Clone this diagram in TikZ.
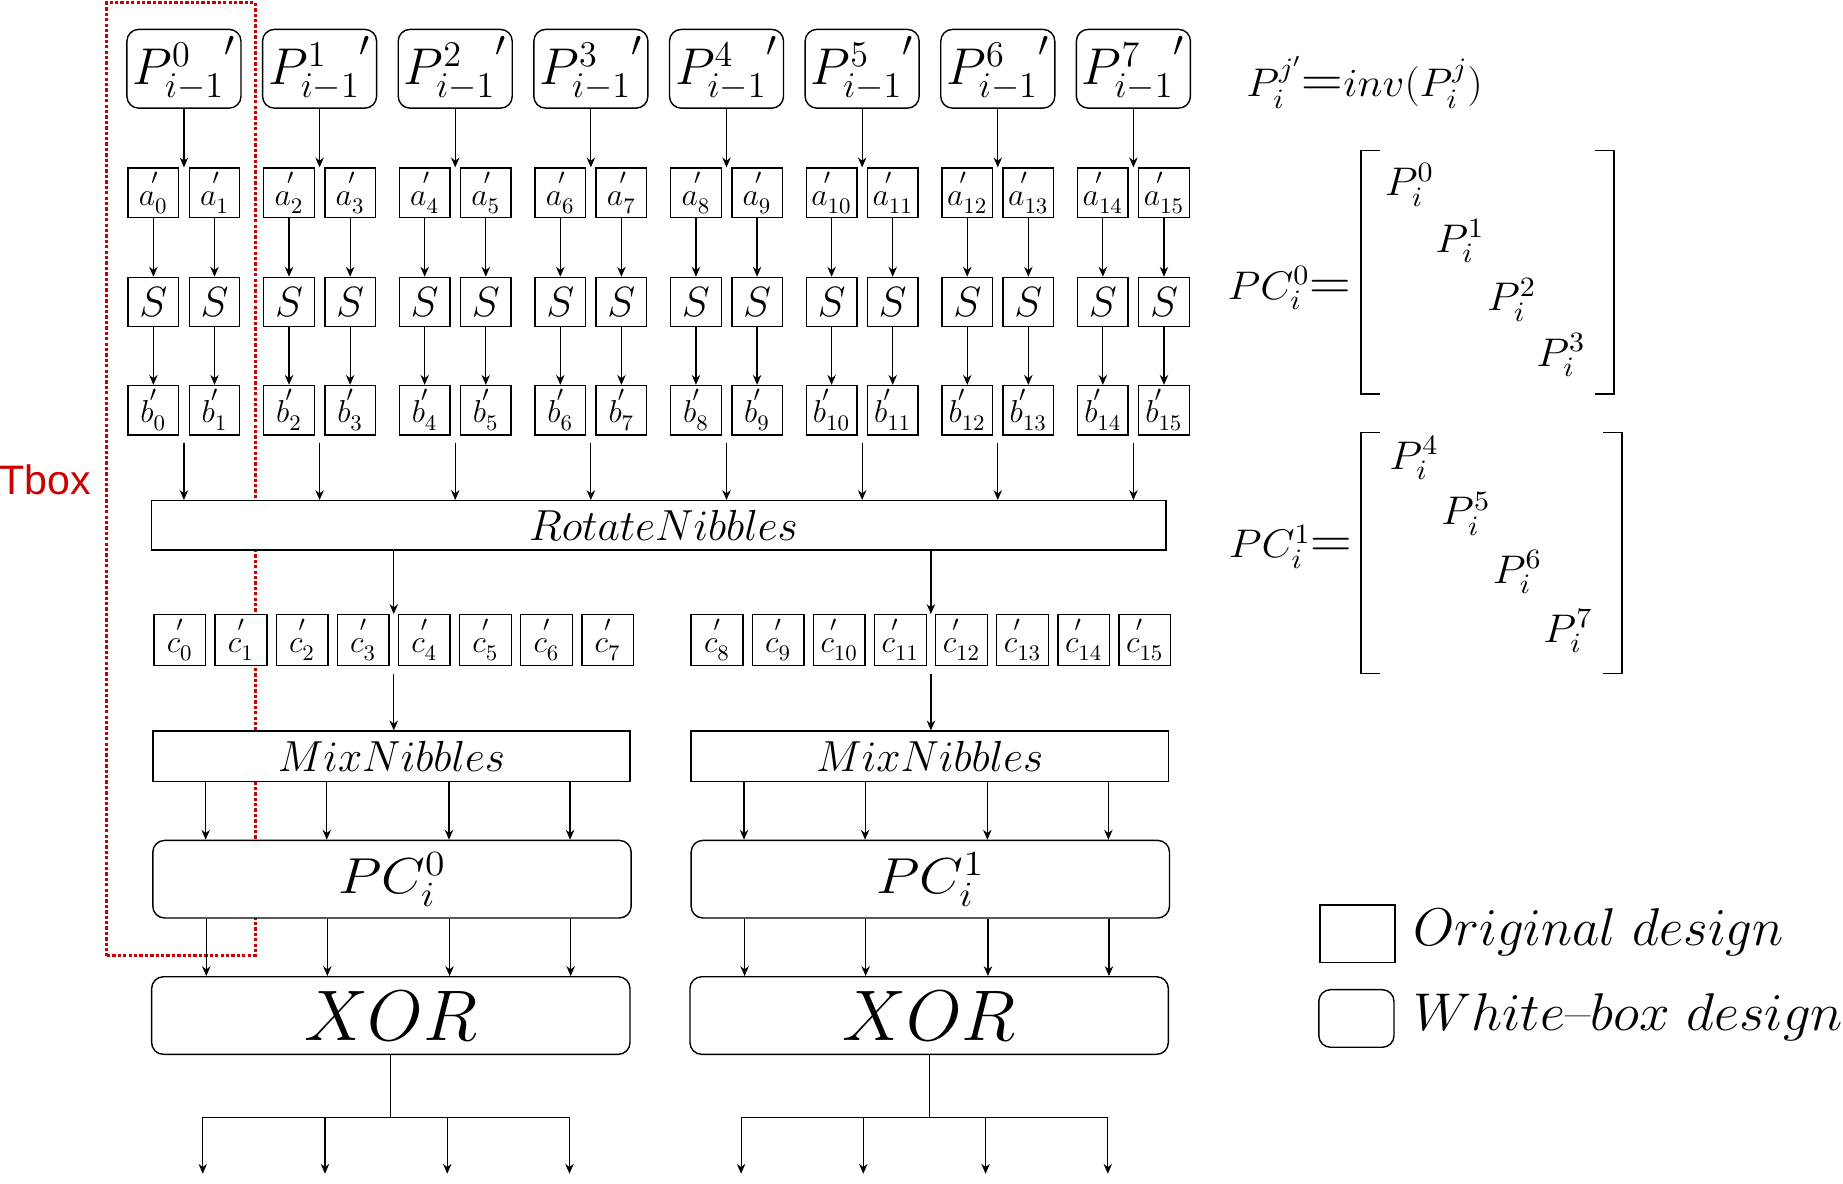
\RequirePackage{fix-cm}
\documentclass[tikz,border=0pt]{standalone}
\usepackage{amsmath}
\usepackage{graphicx}
\usepackage{fontspec}
\newfontfamily\tboxfont{Liberation Sans}
\usetikzlibrary{arrows.meta,calc}
\definecolor{tred}{RGB}{204,0,0}
\newcommand\myfs[1]{\fontsize{#1}{#1}\selectfont}
\newcommand\pr[2]{#1^{\kern-1.6pt{}^{\scriptstyle\prime}}_{#2}}
\newcommand\hs[1]{\scalebox{1.07}[1]{#1}}
\newcommand\bigeq{{\scalebox{1.35}{$=$}}}
\begin{document}
\begin{tikzpicture}[x=0.5pt,y=-0.5pt,
 orig/.style={draw, fill=white, line width=0.6pt, inner sep=0pt, rectangle},
 wbox/.style={orig, rounded corners=5pt},
 arr/.style={-{Stealth[length=4.2pt,width=3.6pt]}, line width=0.5pt},
 ln/.style={line width=0.5pt},
 pbox/.style={wbox, minimum width=48.5pt, minimum height=33.5pt, font=\myfs{22}},
 nib/.style={orig, minimum width=21.5pt, minimum height=21pt, font=\myfs{13.5}},
 sbox/.style={orig, minimum width=21.5pt, minimum height=21pt, font=\myfs{18}},
 cbox/.style={orig, minimum width=22pt, minimum height=21.5pt, font=\myfs{13.5}},
 wide/.style={orig, minimum width=203pt, minimum height=21.5pt, font=\myfs{18.5}},
 pcb/.style={wbox, minimum width=203.5pt, minimum height=33pt, font=\myfs{21.5}},
 xorb/.style={wbox, minimum width=203.5pt, minimum height=33pt, font=\myfs{30.5}},
 eq/.style={inner sep=0pt, font=\myfs{17}},
 brk/.style={line width=0.8pt},
 legt/.style={inner sep=0pt, anchor=west, font=\myfs{22.6}},
 tbx/.style={draw=tred, line width=1.3pt, dash pattern=on 1.4pt off 0.9pt, inner sep=0pt}
]
\useasboundingbox (0,0) rectangle (1568,1007);

% Tbox
\node[tbx, minimum width=63pt, minimum height=405.5pt] (tbox) at (154,407.5) {};
\node[text=tred, font=\tboxfont\myfs{17.5}, inner sep=0pt] (tlab) at (38.5,408) {Tbox};

% top columns
\foreach \k in {0,...,7}{
 \pgfmathsetmacro\cx{156.5+115.4*\k}
 \pgfmathtruncatemacro\ia{2*\k}
 \pgfmathtruncatemacro\ib{2*\k+1}
 \node[pbox] (P\k) at (\cx,58.5) {${P^{\k}_{i-1}}'$};
 \node[nib] (a\ia) at (\cx-26,164) {$\pr{a}{\ia}$};
 \node[nib] (a\ib) at (\cx+26,164) {$\pr{a}{\ib}$};
 \node[sbox] (S\ia) at (\cx-26,257) {$S$};
 \node[sbox] (S\ib) at (\cx+26,257) {$S$};
 \node[nib] (b\ia) at (\cx-26,349) {$\pr{b}{\ia}$};
 \node[nib] (b\ib) at (\cx+26,349) {$\pr{b}{\ib}$};
 \draw[arr] (P\k.south) -- (P\k.south |- a\ia.north);
 \draw[arr] (a\ia) -- (S\ia);
 \draw[arr] (a\ib) -- (S\ib);
 \draw[arr] (S\ia) -- (b\ia);
 \draw[arr] (S\ib) -- (b\ib);
}

\node[orig, minimum width=431.5pt, minimum height=21pt, font=\myfs{18.5}] (rot) at (560.5,447) {\hspace{4pt}$RotateNibbles$};

\foreach \k in {0,...,7}{
 \pgfmathtruncatemacro\ia{2*\k}
 \pgfmathtruncatemacro\ib{2*\k+1}
 \coordinate (bt\k) at ($(b\ia.south)!0.5!(b\ib.south)+(0,6)$);
 \draw[arr] (bt\k) -- (bt\k |- rot.north);
}

% c row
\foreach \j in {0,...,7}{
 \pgfmathtruncatemacro\jj{\j+8}
 \node[cbox] (c\j) at (153+52*\j,544.5) {$\pr{c}{\j}$};
 \node[cbox] (c\jj) at (610+52*\j,544.5) {$\pr{c}{\jj}$};
}
\coordinate (cL) at ($(c3.north east)!.5!(c4.north west)$);
\coordinate (cR) at ($(c11.north east)!.5!(c12.north west)$);
\draw[arr] (rot.south -| cL) -- (cL);
\draw[arr] (rot.south -| cR) -- (cR);

\node[wide] (mixL) at (333,643.5) {$MixNibbles$};
\node[wide] (mixR) at (791,643.5) {$MixNibbles$};
\coordinate (cLb) at ($(c3.south east)!.5!(c4.south west)+(0,7)$);
\coordinate (cRb) at ($(c11.south east)!.5!(c12.south west)+(0,7)$);
\draw[arr] (cLb) -- (cLb |- mixL.north);
\draw[arr] (cRb) -- (cRb |- mixR.north);

\node[pcb] (pcL) at (333.5,748) {\scalebox{1.12}[1]{$PC_i^0$}};
\node[pcb] (pcR) at (791.5,748) {\scalebox{1.12}[1]{$PC_i^1$}};
\node[xorb] (xorL) at (332.5,864) {$XOR$};
\node[xorb] (xorR) at (790.5,864) {$XOR$};

\foreach \s in {L,R}{
 \foreach \dx in {-158,-55,49,152}{
   \draw[arr] ([xshift=\dx*0.5pt]mix\s.south) -- ([xshift=\dx*0.5pt]mix\s.south |- pc\s.north);
   \draw[arr] ([xshift=\dx*0.5pt]pc\s.south) -- ([xshift=\dx*0.5pt]pc\s.south |- xor\s.north);
 }
 \coordinate (j\s) at ($(xor\s.south)+(0,53)$);
 \draw[ln] (xor\s.south) -- (j\s);
 \draw[ln] ([xshift=-80pt]j\s) -- ([xshift=76pt]j\s);
 \foreach \dx in {-160,-56,48,152}{
   \draw[arr] ([xshift=\dx*0.5pt]j\s) -- ([xshift=\dx*0.5pt,yshift=-24pt]j\s);
 }
}

% right-side formulas
\node[eq] (inv) at (1161,70) {\hs{$P_i^{j'}\bigeq inv(P_i^j)$}};

\node[eq] (pc0l) at (1097,245) {\hs{$PC_i^0\bigeq$}};
\draw[brk] (1174,128) -- (1158,128) -- (1158,335) -- (1174,335);
\draw[brk] (1357,128) -- (1373,128) -- (1373,335) -- (1357,335);
\node[eq] (m0) at (1199,157) {\hs{$P_i^0$}};
\node[eq] (m1) at (1242,205) {\hs{$P_i^1$}};
\node[eq] (m2) at (1286,255) {\hs{$P_i^2$}};
\node[eq] (m3) at (1328,302) {\hs{$P_i^3$}};

\node[eq] (pc1l) at (1098,465) {\hs{$PC_i^1\bigeq$}};
\draw[brk] (1174,368) -- (1158,368) -- (1158,573) -- (1174,573);
\draw[brk] (1364,368) -- (1380,368) -- (1380,573) -- (1364,573);
\node[eq] (m4) at (1203,390) {\hs{$P_i^4$}};
\node[eq] (m5) at (1247,437) {\hs{$P_i^5$}};
\node[eq] (m6) at (1291,487) {\hs{$P_i^6$}};
\node[eq] (m7) at (1334,537) {\hs{$P_i^7$}};

% legend
\node[orig, minimum width=32pt, minimum height=24.5pt] (lg1) at (1155,794.5) {};
\node[wbox, minimum width=32pt, minimum height=24.5pt] (lg2) at (1154,866.5) {};
\node[legt] (lt1) at (1202,793) {$Original\ design$};
\node[legt] (lt2) at (1202,865) {\scalebox{1.035}[1]{$White$--$box\ design$}};
\end{tikzpicture}
\end{document}
